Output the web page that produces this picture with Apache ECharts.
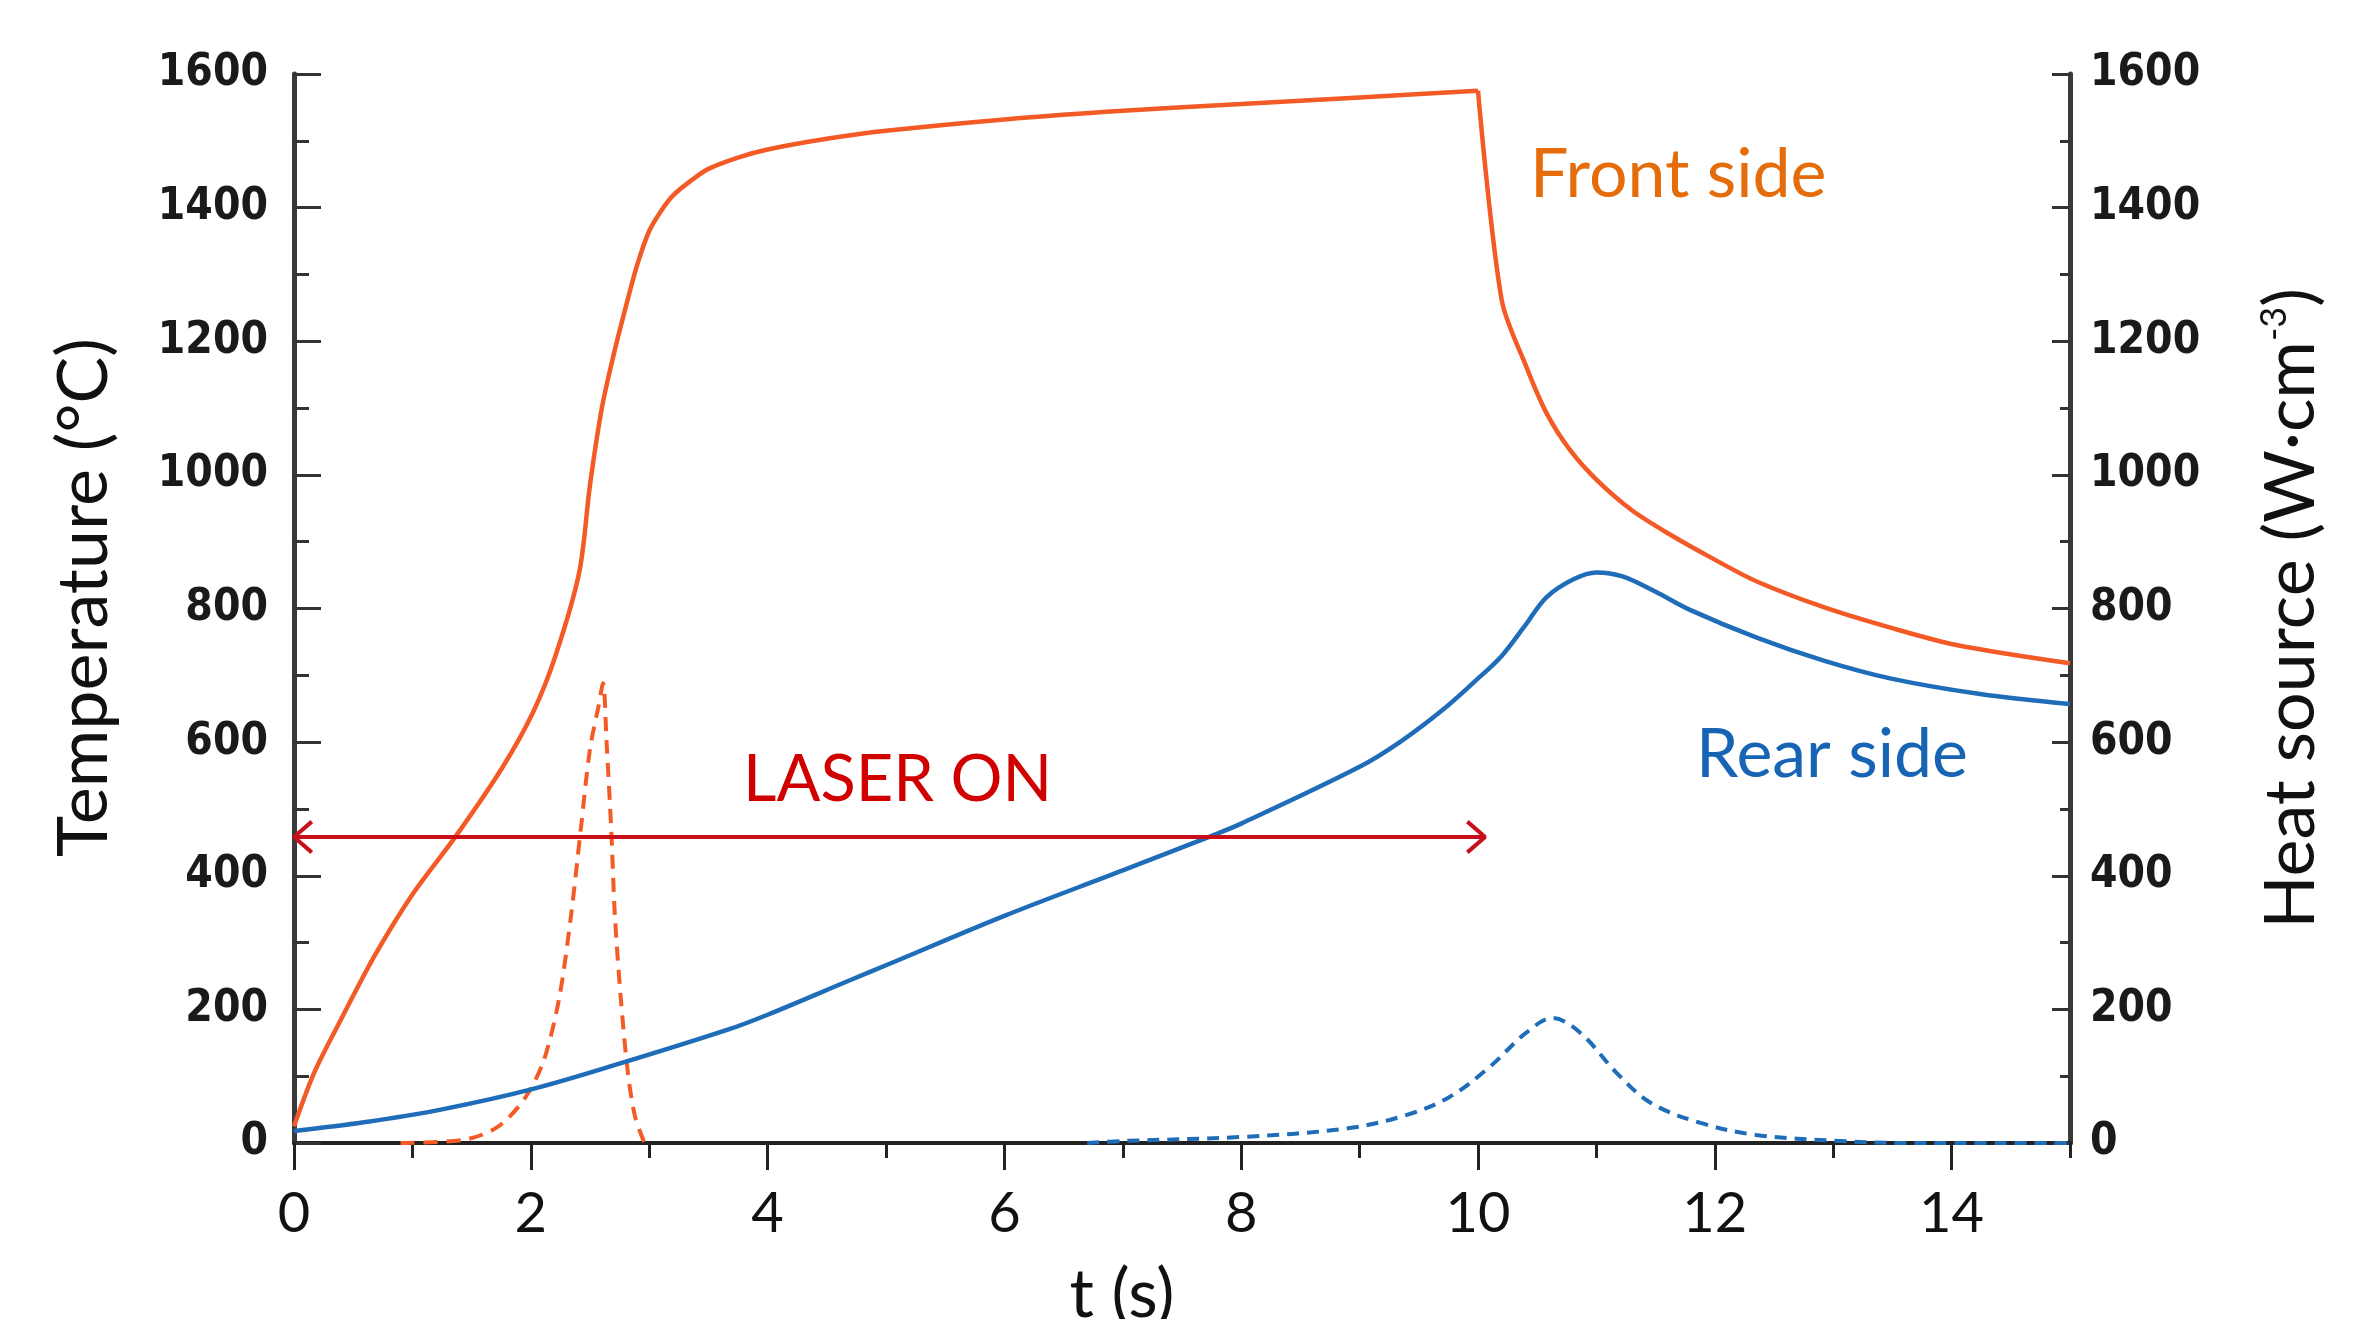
<!DOCTYPE html>
<html>
<head>
<meta charset="utf-8">
<script src="https://cdn.jsdelivr.net/npm/echarts@6/dist/echarts.min.js"></script>
<style>
html,body{margin:0;padding:0;background:#fff;}
#chart{width:2371px;height:1319px;}
</style>
</head>
<body>
<div id="chart"></div>
<script>
// ---- Data ----
// Front side temperature: heating phase (laser on) and cooling phase
const frontHeatingTime = [0,0.17,0.4,0.68,1.0,1.37,1.76,2.02,2.21,2.41,2.5,2.6,2.7,2.8,2.9,3.0,3.1,3.2,3.35,3.5,3.75,4.0,4.5,5.0,6.0,7.0,8.0,9.0,10.0];
const frontHeatingTemp = [25,105,186,280,372,460,562,645,730,855,985,1100,1180,1250,1315,1365,1395,1418,1440,1458,1475,1487,1503,1515,1532,1545,1555,1565,1575];
const frontCoolingTime = [10.0,10.2,10.41,10.58,10.77,11.0,11.3,11.6,11.98,12.36,12.92,13.49,14.05,15.0];
const frontCoolingTemp = [1575,1262,1161,1092,1039,993,947,913,875,840,802,771,745,718];

const rearTime = [0,0.59,1.24,2.02,2.79,3.67,4.0,4.7,5.0,6.0,7.0,7.74,8.0,9.0,9.34,9.7,9.98,10.2,10.4,10.58,10.81,11.0,11.22,11.5,11.79,12.36,12.92,13.49,14.24,15.0];
const rearTemp = [18,31,50,81,121,170,192,244,266,340,408,459,478,563,600,648,692,729,775,817,844,854,848,825,798,756,722,695,672,657];

const frontHeatTime = [0.9,1.44,1.72,1.95,2.11,2.24,2.34,2.42,2.5,2.57,2.61,2.64,2.68,2.71,2.76,2.82,2.88,2.96];
const frontHeat = [0,5,24,67,124,217,341,466,590,652,688,600,466,341,217,105,40,0];

const rearHeatTime = [6.7,7.0,8.0,8.9,9.4,9.76,10.1,10.4,10.63,10.87,11.17,11.46,11.88,12.35,13.06,13.6,15.0];
const rearHeat = [0,3,9,22,42,69,114,164,187,164,105,60,30,12,3,0,0];

// LASER ON arrow (data coordinates)
const laserStart = 0;
const laserEnd = 10.06;
const laserLevel = 458;
const headDx = 0.15;
const headDy = 23;

const xLabelValues = [0,2,4,6,8,10,12,14];
const xMajorTicks = [0,2,4,6,8,10,12,14];

const zip = (a, b) => a.map((v, i) => [v, b[i]]);

const chart = echarts.init(document.getElementById('chart'), null, {renderer: 'canvas'});

const yLabelStyle = {
  fontFamily: "'DejaVu Sans Condensed', 'DejaVu Sans', sans-serif",
  fontWeight: 'bold',
  fontSize: 44,
  color: '#1a1a1a',
  formatter: (v) => String(v)
};
const titleFont = "Lato, 'Open Sans', sans-serif";
const ORANGE = '#F35A25';
const BLUE = '#1F6DB9';
const RED = '#C8101A';

const option = {
  animation: false,
  backgroundColor: '#ffffff',
  grid: {left: 294, right: 301, top: 74, bottom: 176, containLabel: false, outerBoundsMode: 'none'},
  xAxis: [{
    type: 'value', min: 0, max: 15, interval: 1, position: 'bottom',
    axisLine: {show: true, onZero: false, lineStyle: {color: '#222', width: 4}},
    axisTick: {show: true, inside: false, length: 15, lineStyle: {color: '#222', width: 3}},
    axisLabel: {
      margin: 43, fontFamily: titleFont, fontSize: 56, color: '#111',
      formatter: (v) => (xLabelValues.indexOf(v) >= 0 ? String(v) : '')
    },
    splitLine: {show: false},
    name: 't (s)', nameLocation: 'middle', nameGap: 118,
    nameTextStyle: {fontFamily: titleFont, fontSize: 68, color: '#111', padding: [0, 120, 0, 0]}
  }, {
    type: 'value', min: 0, max: 15, position: 'bottom',
    axisLine: {show: false},
    axisTick: {show: true, inside: false, length: 27, customValues: xMajorTicks, lineStyle: {color: '#222', width: 3}},
    axisLabel: {show: false},
    splitLine: {show: false}
  }],
  yAxis: [{
    type: 'value', min: 0, max: 1600, interval: 200, position: 'left',
    axisLine: {show: true, onZero: false, lineStyle: {color: '#3a3a3a', width: 5}},
    axisTick: {show: true, inside: true, length: 27, lineStyle: {color: '#333', width: 3}},
    minorTick: {show: true, splitNumber: 2, length: 15, lineStyle: {color: '#333', width: 3}},
    axisLabel: Object.assign({margin: 26}, yLabelStyle),
    splitLine: {show: false},
    name: 'Temperature (°C)', nameLocation: 'middle', nameGap: 175, nameRotate: 90,
    nameTextStyle: {fontFamily: titleFont, fontSize: 70, color: '#111', padding: [0, 0, 0, 22]}
  }, {
    type: 'value', min: 0, max: 1600, interval: 200, position: 'right',
    axisLine: {show: true, onZero: false, lineStyle: {color: '#3a3a3a', width: 5}},
    axisTick: {show: true, inside: true, length: 18, lineStyle: {color: '#333', width: 3}},
    minorTick: {show: true, splitNumber: 2, length: 10, lineStyle: {color: '#333', width: 3}},
    axisLabel: Object.assign({margin: 20}, yLabelStyle),
    splitLine: {show: false},
    name: '{m|Heat source (W·cm}{s|-3}{m|)}', nameLocation: 'middle', nameGap: 186, nameRotate: 90,
    nameTextStyle: {
      fontFamily: titleFont, fontSize: 70, color: '#111',
      rich: {
        m: {fontFamily: titleFont, fontSize: 70, color: '#111', lineHeight: 70},
        s: {fontFamily: titleFont, fontSize: 36, color: '#111', verticalAlign: 'top', lineHeight: 70, padding: [0, 0, 30, 0]}
      }
    }
  }],
  series: [
    {
      name: 'Front heat source', type: 'line', xAxisIndex: 0, yAxisIndex: 1,
      data: zip(frontHeatTime, frontHeat), symbol: 'none', smooth: 0.3,
      lineStyle: {color: ORANGE, width: 4, type: [14, 9]}, z: 3
    },
    {
      name: 'Rear heat source', type: 'line', xAxisIndex: 0, yAxisIndex: 1,
      data: zip(rearHeatTime, rearHeat), symbol: 'none', smooth: 0.35,
      lineStyle: {color: BLUE, width: 4, type: [12, 8]}, z: 3
    },
    {
      name: 'Front side', type: 'line', xAxisIndex: 0, yAxisIndex: 0,
      data: zip(frontHeatingTime, frontHeatingTemp), symbol: 'none', smooth: 0.3,
      lineStyle: {color: ORANGE, width: 4.5}, z: 4
    },
    {
      name: 'Front side (cooling)', type: 'line', xAxisIndex: 0, yAxisIndex: 0,
      data: zip(frontCoolingTime, frontCoolingTemp), symbol: 'none', smooth: 0.3,
      lineStyle: {color: ORANGE, width: 4.5}, z: 4
    },
    {
      name: 'Rear side', type: 'line', xAxisIndex: 0, yAxisIndex: 0,
      data: zip(rearTime, rearTemp), symbol: 'none', smooth: 0.35,
      lineStyle: {color: BLUE, width: 4.5}, z: 4
    },
    {
      name: 'LASER ON', type: 'line', xAxisIndex: 0, yAxisIndex: 0,
      data: [[laserStart, laserLevel], [laserEnd, laserLevel]], symbol: 'none',
      lineStyle: {color: RED, width: 4}, z: 5
    },
    {
      name: 'arrowLeft', type: 'line', xAxisIndex: 0, yAxisIndex: 0,
      data: [[laserStart + headDx, laserLevel + headDy], [laserStart, laserLevel], [laserStart + headDx, laserLevel - headDy]],
      symbol: 'none', lineStyle: {color: RED, width: 4}, z: 5
    },
    {
      name: 'arrowRight', type: 'line', xAxisIndex: 0, yAxisIndex: 0,
      data: [[laserEnd - headDx, laserLevel + headDy], [laserEnd, laserLevel], [laserEnd - headDx, laserLevel - headDy]],
      symbol: 'none', lineStyle: {color: RED, width: 4}, z: 5
    }
  ],
  graphic: [
    {type: 'text', left: 1530, top: 141, style: {text: 'Front side', fill: '#E46C0A', font: "68px Lato, 'Open Sans', sans-serif"}},
    {type: 'text', left: 1696, top: 721, style: {text: 'Rear side', fill: '#1864B4', font: "68px Lato, 'Open Sans', sans-serif"}},
    {type: 'text', left: 743, top: 748, style: {text: 'LASER ON', fill: '#D00000', font: "65px Lato, 'Open Sans', sans-serif"}}
  ]
};
chart.setOption(option);
</script>
</body>
</html>
